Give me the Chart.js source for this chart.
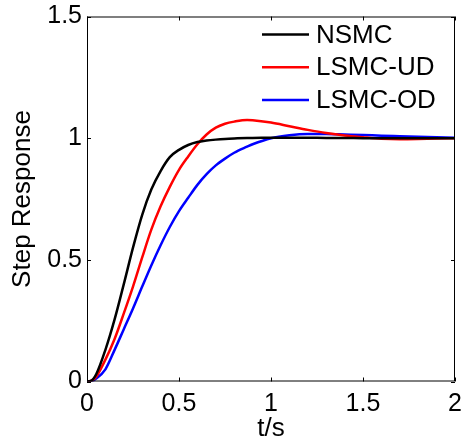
<!DOCTYPE html>
<html>
<head>
<meta charset="utf-8">
<script src="https://cdn.jsdelivr.net/npm/chart.js@4.4.1/dist/chart.umd.min.js"></script>
<style>
  html, body { margin: 0; padding: 0; background: #fff; }
  #wrap { width: 461px; height: 443px; }
</style>
</head>
<body>
<div id="wrap"><canvas id="stepChart" width="461" height="443"></canvas></div>
<script>
// time axis (s) and step responses
const t = [0, 0.02, 0.05, 0.1, 0.15, 0.2, 0.25, 0.3, 0.35, 0.4, 0.45, 0.5, 0.55, 0.6, 0.65, 0.7, 0.75, 0.8, 0.87, 0.9,
           1.0, 1.1, 1.2, 1.3, 1.4, 1.5, 1.6, 1.7, 1.8, 1.9, 2.0];
const nsmc = [0, 0.002, 0.03, 0.13, 0.255, 0.40, 0.55, 0.685, 0.79, 0.865, 0.922, 0.952, 0.972, 0.984, 0.99, 0.994, 0.997, 0.999, 1.001, 1.001,
              1.002, 1.002, 1.002, 1.001, 1.001, 1.0, 1.0, 1.0, 1.0, 1.0, 1.0];
const lsmcUd = [0, 0.002, 0.02, 0.09, 0.175, 0.28, 0.39, 0.51, 0.625, 0.72, 0.80, 0.87, 0.925, 0.975, 1.015, 1.043, 1.059, 1.068, 1.075, 1.074,
                1.064, 1.049, 1.034, 1.021, 1.011, 1.004, 0.998, 0.996, 0.997, 0.999, 1.0];
const lsmcOd = [0, 0, 0.012, 0.05, 0.13, 0.215, 0.30, 0.39, 0.478, 0.56, 0.635, 0.70, 0.755, 0.808, 0.852, 0.888, 0.916, 0.94, 0.965, 0.975,
                1.0, 1.012, 1.017, 1.017, 1.015, 1.013, 1.01, 1.008, 1.006, 1.004, 1.002];

const seriesNames = ["NSMC", "LSMC-UD", "LSMC-OD"];
const seriesColors = ["#000000", "#ff0000", "#0000ff"];
const xTicks = [0, 0.5, 1, 1.5, 2];
const yTicks = [0, 0.5, 1, 1.5];

const FONT = "Arial, 'Liberation Sans', sans-serif";

function toPoints(ys) {
    return ys.map((y, i) => ({ x: t[i], y: y }));
}

// box round the plot, inward tick marks and legend inside the top right
const boxPlugin = {
    id: "boxPlugin",
    afterDraw(chart) {
        const ctx = chart.ctx;
        const a = chart.chartArea;
        const xs = chart.scales.x;
        const ys = chart.scales.y;
        ctx.save();
        ctx.strokeStyle = "#000";
        ctx.lineWidth = 1;
        ctx.strokeRect(a.left + 0.5, a.top + 0.5, a.right - a.left - 1, a.bottom - a.top - 1);
        const tl = 4;
        ctx.beginPath();
        xTicks.forEach(v => {
            const px = Math.round(xs.getPixelForValue(v)) + 0.5;
            ctx.moveTo(px, a.bottom); ctx.lineTo(px, a.bottom - tl);
            ctx.moveTo(px, a.top); ctx.lineTo(px, a.top + tl);
        });
        yTicks.forEach(v => {
            const py = Math.round(ys.getPixelForValue(v)) + 0.5;
            ctx.moveTo(a.left, py); ctx.lineTo(a.left + tl, py);
            ctx.moveTo(a.right, py); ctx.lineTo(a.right - tl, py);
        });
        ctx.stroke();

        // legend
        ctx.font = "26px " + FONT;
        ctx.textBaseline = "middle";
        ctx.textAlign = "left";
        chart.data.datasets.forEach((ds, i) => {
            const y = a.top + 18 + i * 32.7;
            ctx.strokeStyle = ds.borderColor;
            ctx.lineWidth = 2.5;
            ctx.beginPath();
            ctx.moveTo(a.right - 193, y);
            ctx.lineTo(a.right - 146, y);
            ctx.stroke();
            ctx.fillStyle = "#000";
            ctx.fillText(ds.label, a.right - 139, y + 1);
        });
        ctx.restore();
    }
};

const ctx = document.getElementById("stepChart").getContext("2d");
const chart = new Chart(ctx, {
    type: "line",
    data: {
        datasets: [
            { label: seriesNames[0], data: toPoints(nsmc), borderColor: seriesColors[0] },
            { label: seriesNames[1], data: toPoints(lsmcUd), borderColor: seriesColors[1] },
            { label: seriesNames[2], data: toPoints(lsmcOd), borderColor: seriesColors[2] }
        ].map(d => Object.assign(d, {
            borderWidth: 2.5,
            pointRadius: 0,
            fill: false,
            cubicInterpolationMode: "monotone"
        }))
    },
    options: {
        responsive: false,
        animation: false,
        layout: { autoPadding: false, padding: { left: 10, top: 16.5, right: 6, bottom: 0 } },
        plugins: { legend: { display: false }, tooltip: { enabled: false } },
        scales: {
            x: {
                type: "linear",
                min: 0, max: 2,
                afterBuildTicks: s => { s.ticks = xTicks.map(v => ({ value: v })); },
                afterFit: s => { s.height = 61.5; s.paddingLeft = 0; s.paddingRight = 0; },
                grid: { display: false, drawTicks: false },
                border: { display: false },
                ticks: {
                    color: "#000",
                    padding: 8,
                    maxRotation: 0,
                    font: { family: FONT, size: 25 },
                    callback: v => String(v)
                },
                title: {
                    display: true,
                    text: "t/s",
                    color: "#000",
                    padding: { top: 0, bottom: 0 },
                    font: { family: FONT, size: 26, lineHeight: 1.1 }
                }
            },
            y: {
                min: 0, max: 1.5,
                afterBuildTicks: s => { s.ticks = yTicks.map(v => ({ value: v })); },
                afterFit: s => { s.width = 77; s.paddingTop = 0; s.paddingBottom = 0; },
                grid: { display: false, drawTicks: false },
                border: { display: false },
                ticks: {
                    color: "#000",
                    padding: 5,
                    font: { family: FONT, size: 25 },
                    callback: v => String(v)
                },
                title: {
                    display: true,
                    text: "Step Response",
                    color: "#000",
                    padding: { top: 0, bottom: 0 },
                    font: { family: FONT, size: 26, lineHeight: 1 }
                }
            }
        }
    },
    plugins: [boxPlugin]
});
</script>
</body>
</html>
